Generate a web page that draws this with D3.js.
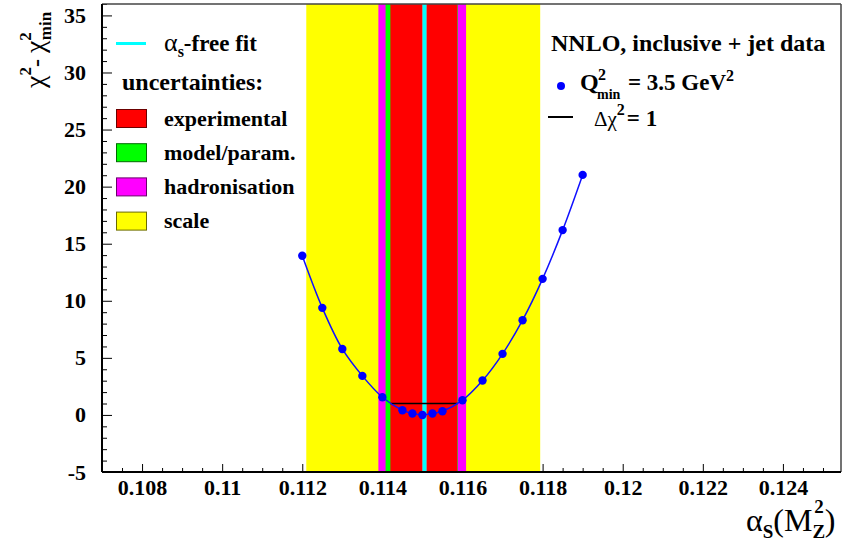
<!DOCTYPE html>
<html><head><meta charset="utf-8">
<script src="https://cdn.jsdelivr.net/npm/d3@7"></script>
<style>body{margin:0;background:#fff;} svg{display:block;}</style>
</head>
<body>
<svg id="c" width="843" height="549"></svg>
<script>
// ---- data ----
const alphaS = [0.112,0.1125,0.113,0.1135,0.114,0.1145,0.11475,0.115,0.11525,0.1155,0.116,0.1165,0.117,0.1175,0.118,0.1185,0.119];
const dChi2  = [13.94,9.38,5.78,3.42,1.55,0.41,0.12,0.0,0.12,0.32,1.29,3.01,5.35,8.30,11.92,16.19,21.03];
const bandNames = ["scale","hadronisation","model/param.","experimental"];
const bandLow   = [0.1121,0.1139,0.11408,0.1142];
const bandHigh  = [0.11794,0.11609,0.11588,0.11587];
const bandColors= ["#ffff00","#ff00ff","#00ff00","#ff0000"];
const bandBorders=["#6b6b00","#6b006b","#006b00","#6b0000"];
const centralFit = 0.11505;
const deltaChiLine = [0.1142,0.11588];
const deltaChiLevel = 1;
const xTicks = [0.108,0.11,0.112,0.114,0.116,0.118,0.12,0.122,0.124];
const yTicks = [-5,0,5,10,15,20,25,30,35];
const legendOrder = ["experimental","model/param.","hadronisation","scale"];

// ---- helpers ----
const SERIF = "font-family:'Liberation Serif','Times New Roman',serif;";
function st(size, bold){ return SERIF + "font-size:"+size+"px;font-weight:"+(bold===false?"normal":"bold")+";"; }

// ---- layout ----
const svg = d3.select("#c");
const L=102, R=841, T=4, B=472;
const x = d3.scaleLinear().domain([0.107,0.12545]).range([L,R]);
const y = d3.scaleLinear().domain([-5,36]).range([B,T]);

svg.append("rect").attr("width",843).attr("height",549).attr("fill","#fff");

const xMinor = d3.range(0,38).map(i=>+(0.107+i*0.0005).toFixed(4)).filter(v=>v<=0.12545 && !xTicks.some(t=>Math.abs(t-v)<1e-9));
const yMinor = d3.range(-5,37).filter(v=>!yTicks.includes(v));

const gx = svg.append("g").attr("transform",`translate(0,${B})`)
  .call(d3.axisBottom(x).tickValues(xTicks).tickFormat(d=>String(d)).tickSize(-8).tickPadding(7));
gx.select(".domain").remove();
gx.selectAll("text").attr("style",st(22)).attr("fill","#000");
const gxm = svg.append("g").attr("transform",`translate(0,${B})`)
  .call(d3.axisBottom(x).tickValues(xMinor).tickFormat("").tickSize(-4));
gxm.select(".domain").remove();

const gy = svg.append("g").attr("transform",`translate(${L},0)`)
  .call(d3.axisLeft(y).tickValues(yTicks).tickFormat(d=>String(d)).tickSize(-10).tickPadding(16));
gy.select(".domain").remove();
gy.selectAll("text").attr("style",st(22)).attr("fill","#000");
const gym = svg.append("g").attr("transform",`translate(${L},0)`)
  .call(d3.axisLeft(y).tickValues(yMinor).tickFormat("").tickSize(-5));
gym.select(".domain").remove();
svg.selectAll(".tick line").attr("stroke","#000").attr("stroke-width",1);

// bands
bandNames.forEach((n,i)=>{
  svg.append("rect").attr("x",x(bandLow[i])).attr("y",T)
    .attr("width",x(bandHigh[i])-x(bandLow[i])).attr("height",B-T)
    .attr("fill",bandColors[i]);
});
svg.append("rect").attr("x",x(centralFit)-2).attr("y",T).attr("width",4).attr("height",B-T)
  .attr("fill","#00ffff").attr("stroke","#7fbfbf").attr("stroke-width",0.5);

svg.append("line").attr("x1",x(deltaChiLine[0])).attr("x2",x(deltaChiLine[1]))
  .attr("y1",y(deltaChiLevel)).attr("y2",y(deltaChiLevel)).attr("stroke","#000").attr("stroke-width",1.5);

const pts = alphaS.map((a,i)=>[a,dChi2[i]]);
svg.append("path").datum(pts).attr("fill","none").attr("stroke","#1010ff").attr("stroke-width",1.5)
  .attr("d",d3.line().x(d=>x(d[0])).y(d=>y(d[1])).curve(d3.curveCatmullRom));
svg.append("g").selectAll("circle").data(pts).join("circle")
  .attr("cx",d=>x(d[0])).attr("cy",d=>y(d[1])).attr("r",4.2).attr("fill","#0000ff");

// frame
svg.append("line").attr("x1",L).attr("x2",R).attr("y1",T).attr("y2",T).attr("stroke","#444").attr("stroke-width",1.5);
svg.append("line").attr("x1",R).attr("x2",R).attr("y1",T).attr("y2",B).attr("stroke","#444").attr("stroke-width",1.5);
svg.append("line").attr("x1",L).attr("x2",R).attr("y1",B).attr("y2",B).attr("stroke","#000").attr("stroke-width",2);
svg.append("line").attr("x1",L).attr("x2",L).attr("y1",T).attr("y2",B).attr("stroke","#000").attr("stroke-width",2);

// ---- left legend ----
svg.append("line").attr("x1",116).attr("x2",146).attr("y1",43.5).attr("y2",43.5).attr("stroke","#00ffff").attr("stroke-width",3);
const t1 = svg.append("text").attr("x",164).attr("y",51).attr("style",st(23));
t1.append("tspan").attr("style",st(26,false)).text("α");
t1.append("tspan").attr("dy",6).attr("style",st(16)).text("s");
t1.append("tspan").attr("dy",-6).text("-free fit");
svg.append("text").attr("x",122).attr("y",90).attr("style",st(24)).text("uncertainties:");
legendOrder.forEach((n,i)=>{
  const k = bandNames.indexOf(n);
  const yy = 109.5 + i*34.2;
  svg.append("rect").attr("x",116.5).attr("y",yy).attr("width",30).attr("height",18)
    .attr("fill",bandColors[k]).attr("stroke",bandBorders[k]).attr("stroke-width",1);
  svg.append("text").attr("x",164).attr("y",yy+16).attr("style",st(22)).text(n);
});

// ---- right legend ----
svg.append("text").attr("x",551).attr("y",51).attr("style",st(24)).text("NNLO, inclusive + jet data");
svg.append("circle").attr("cx",561).attr("cy",86).attr("r",4).attr("fill","#0000ff");
svg.append("text").attr("x",580).attr("y",90).attr("style",st(24)).text("Q");
svg.append("text").attr("x",598).attr("y",80).attr("style",st(16)).text("2");
svg.append("text").attr("x",597).attr("y",99).attr("style",st(14)).text("min");
const tq = svg.append("text").attr("x",628).attr("y",90).attr("style",st(23));
tq.append("tspan").text("= 3.5 GeV");
tq.append("tspan").attr("dy",-9).attr("style",st(16)).text("2");
svg.append("line").attr("x1",548).attr("x2",573).attr("y1",117).attr("y2",117).attr("stroke","#000").attr("stroke-width",2);
const t2 = svg.append("text").attr("x",594).attr("y",126).attr("style",st(23));
t2.append("tspan").attr("style",st(21,false)).text("Δχ");
t2.append("tspan").attr("dy",-11).attr("style",st(16)).text("2");
t2.append("tspan").attr("dy",11).attr("dx",2).text("= 1");

// ---- axis titles ----
const yt = svg.append("text").attr("transform","translate(44,88) rotate(-90)").attr("style",st(28,false));
yt.append("tspan").text("χ");
yt.append("tspan").attr("dy",-13).attr("style",st(17)).text("2");
yt.append("tspan").attr("dy",13).attr("style",st(24)).text("- ");
yt.append("tspan").text("χ");
yt.append("tspan").attr("dy",-13).attr("style",st(17)).text("2");
yt.append("tspan").attr("dy",20).attr("dx",-8).attr("style",st(17)).text("min");

const xt = svg.append("text").attr("x",746).attr("y",531).attr("style",st(32,false));
xt.append("tspan").text("α");
xt.append("tspan").attr("dy",7).attr("style",st(19)).text("S");
xt.append("tspan").attr("dy",-7).text("(M");
xt.append("tspan").attr("dy",7).attr("style",st(19)).text("Z");
xt.append("tspan").attr("dy",-25).attr("dx",-11).attr("style",st(19)).text("2");
xt.append("tspan").attr("dy",18).attr("dx",1).text(")");
</script>
</body></html>
